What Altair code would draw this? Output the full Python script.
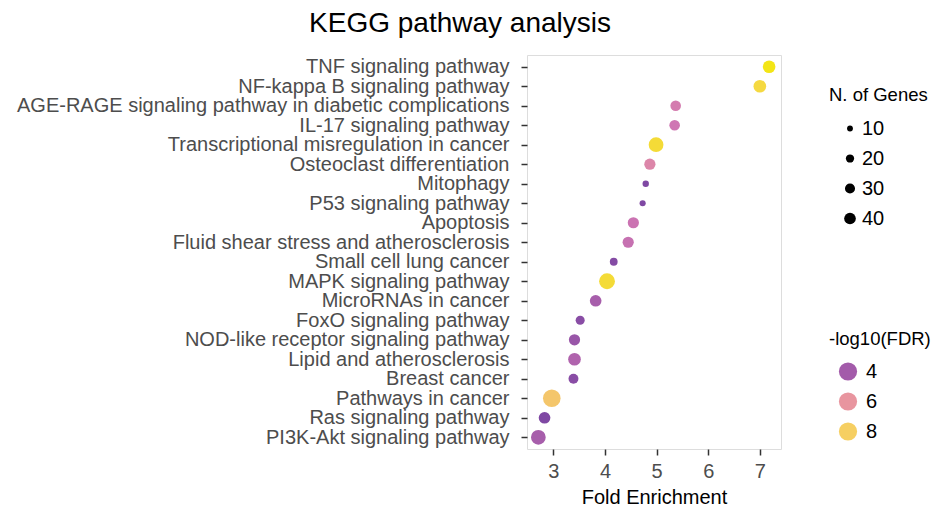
import altair as alt
import pandas as pd

pathways = [
    "TNF signaling pathway",
    "NF-kappa B signaling pathway",
    "AGE-RAGE signaling pathway in diabetic complications",
    "IL-17 signaling pathway",
    "Transcriptional misregulation in cancer",
    "Osteoclast differentiation",
    "Mitophagy",
    "P53 signaling pathway",
    "Apoptosis",
    "Fluid shear stress and atherosclerosis",
    "Small cell lung cancer",
    "MAPK signaling pathway",
    "MicroRNAs in cancer",
    "FoxO signaling pathway",
    "NOD-like receptor signaling pathway",
    "Lipid and atherosclerosis",
    "Breast cancer",
    "Pathways in cancer",
    "Ras signaling pathway",
    "PI3K-Akt signaling pathway",
]
fold_enrichment = [7.18, 7.0, 5.37, 5.35, 4.99, 4.87, 4.79, 4.73, 4.55, 4.45,
                   4.17, 4.04, 3.82, 3.52, 3.41, 3.41, 3.39, 2.97, 2.83, 2.71]
n_genes = [47, 47, 33, 33, 64, 37, 12, 11, 37, 37,
           18, 74, 40, 24, 37, 47, 29, 91, 40, 64]
neg_log10_fdr = [9.6, 8.7, 5.2, 5.0, 8.9, 5.5, 3.3, 3.3, 4.9, 4.8,
                 3.4, 8.9, 4.1, 3.5, 3.8, 4.3, 3.5, 7.7, 3.3, 4.1]

color_stops = [3.2, 4, 5, 6, 8, 9.6]
color_range = ["#7a45a2", "#a35baa", "#cf76b3", "#e8959f", "#f6cf62", "#f3e516"]
size_legend_values = [10, 20, 30, 40]
color_legend_values = [4, 6, 8]
x_ticks = [3, 4, 5, 6, 7]

df = pd.DataFrame({
    "Pathway": pathways,
    "FoldEnrichment": fold_enrichment,
    "Genes": n_genes,
    "FDR": neg_log10_fdr,
})

FONT = "Liberation Sans"

chart = alt.Chart(df).mark_circle(opacity=1).encode(
    x=alt.X("FoldEnrichment:Q",
            scale=alt.Scale(domain=[2.49, 7.41], nice=False, zero=False),
            axis=alt.Axis(values=x_ticks, title="Fold Enrichment", grid=False,
                          domain=False, labelFontSize=20, labelColor="#4D4D4D",
                          labelFont=FONT, tickColor="#333333", tickSize=6,
                          tickWidth=1.5, labelPadding=6, titleFont=FONT,
                          titleFontSize=20, titleFontWeight="normal",
                          titleColor="black", titlePadding=6)),
    y=alt.Y("Pathway:N", sort=pathways,
            scale=alt.Scale(type="point", padding=0.6),
            axis=alt.Axis(title=None, grid=False, domain=False,
                          labelFontSize=20, labelColor="#4D4D4D", labelFont=FONT,
                          tickColor="#333333", tickSize=6, tickWidth=1.5,
                          labelPadding=12, labelLimit=700)),
    size=alt.Size("Genes:Q",
                  scale=alt.Scale(type="linear", domain=[0, 100], range=[0, 340], zero=True),
                  legend=alt.Legend(title="N. of Genes", values=size_legend_values,
                                    orient="none", legendX=302, legendY=31,
                                    titleFont=FONT, titleFontSize=18.5,
                                    titleFontWeight="normal", titleColor="black",
                                    titlePadding=14, labelFont=FONT, labelFontSize=20,
                                    labelColor="black", symbolFillColor="black",
                                    symbolStrokeWidth=0, symbolOpacity=1,
                                    rowPadding=10, symbolOffset=11, labelOffset=2,
                                    padding=0)),
    color=alt.Color("FDR:Q",
                    scale=alt.Scale(domain=color_stops, range=color_range,
                                    interpolate="rgb"),
                    legend=alt.Legend(title="-log10(FDR)", type="symbol",
                                      values=color_legend_values,
                                      orient="none", legendX=302, legendY=275,
                                      symbolType="circle", symbolSize=330,
                                      symbolStrokeWidth=0, symbolOpacity=1,
                                      titleFont=FONT, titleFontSize=18.5,
                                      titleFontWeight="normal", titleColor="black",
                                      titlePadding=13, labelFont=FONT, labelFontSize=20,
                                      labelColor="black", rowPadding=10,
                                      symbolOffset=9, labelOffset=8, padding=0)),
).properties(
    width=254,
    height=394,
    title=alt.TitleParams("KEGG pathway analysis", font=FONT, fontSize=28,
                          fontWeight="normal", color="black", anchor="middle",
                          frame="group", dx=-194, offset=17),
    autosize=alt.AutoSizeParams(type="none"),
    padding={"left": 519, "top": 47, "right": 153, "bottom": 58},
).configure_view(
    fill="#EBEBEB", stroke=None
).configure(background="white")

chart.save("out.html", embed_options={"renderer": "svg", "actions": False})
